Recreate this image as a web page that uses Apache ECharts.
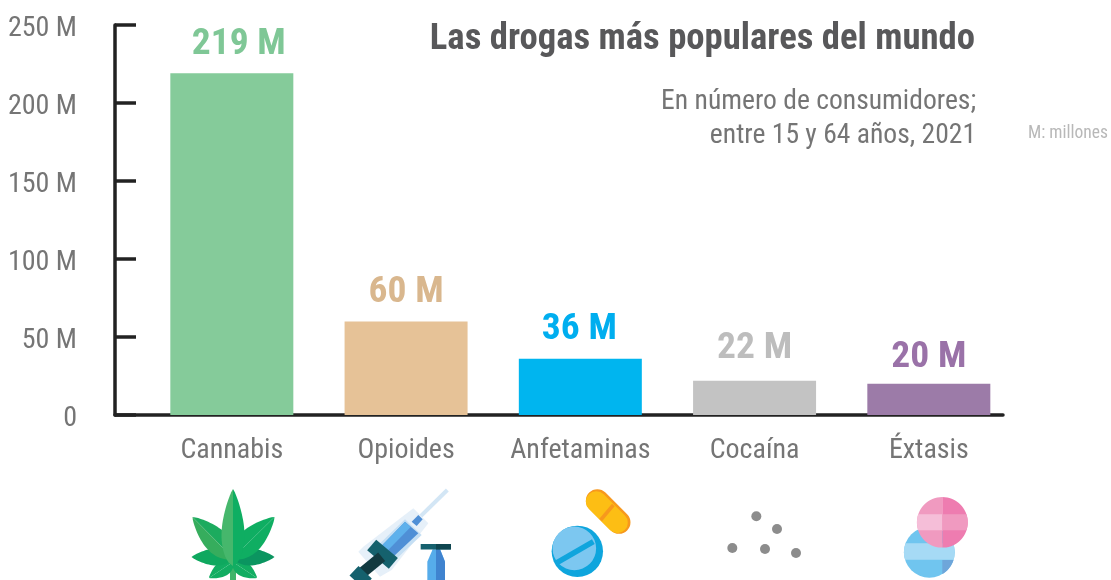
<!DOCTYPE html>
<html><head><meta charset="utf-8">
<style>html,body{margin:0;padding:0;background:#fff}#c{width:1111px;height:580px}</style>
<script src="https://cdn.jsdelivr.net/npm/echarts@6/dist/echarts.min.js"></script>
</head><body><div id="c"></div>
<script>
const categories = ['Cannabis','Opioides','Anfetaminas','Cocaína','Éxtasis'];
const values = [219,60,36,22,20];
const barColors = ['#85cb9a','#e6c297','#00b5ef','#c3c3c3','#9c7ba8'];
const labelColors = ['#7fc796','#d9b78e','#00aeef','#bdbdbd','#9a72a8'];
const font = '"Roboto Condensed","Liberation Sans",sans-serif';

const chart = echarts.init(document.getElementById('c'), null, {renderer:'canvas'});

const G = [];
function poly(points, fill, z){ G.push({type:'polygon', silent:true, z:z||10, shape:{points}, style:{fill}}); }
function line(a,b,stroke,w,cap){ G.push({type:'line', silent:true, z:10, shape:{x1:a[0],y1:a[1],x2:b[0],y2:b[1]}, style:{stroke,lineWidth:w,lineCap:cap||'butt'}}); }
function circ(c,r,fill){ G.push({type:'circle', silent:true, z:10, shape:{cx:c[0],cy:c[1],r}, style:{fill}}); }
function leaf(base,tip,w,cl,cr){
  const dx=tip[0]-base[0], dy=tip[1]-base[1], L=Math.hypot(dx,dy), nx=-dy/L, ny=dx/L;
  const side=s=>{const p=[base.slice()];for(let i=1;i<=24;i++){const t=i/24,h=w*Math.pow(Math.sin(Math.PI*Math.pow(t,0.75)),0.8);
    p.push([base[0]+dx*t+s*nx*h, base[1]+dy*t+s*ny*h]);}return p;};
  poly(side(1),cl); poly(side(-1),cr);
}
function clipCircle(cx,cy,r,x0,x1,y0,y1,fill){
  const L=[],R=[];
  for(let y=Math.max(y0,cy-r);y<=Math.min(y1,cy+r)+0.001;y+=0.5){
    const w=Math.sqrt(Math.max(0,r*r-(y-cy)*(y-cy)));
    const a=Math.max(x0,cx-w), b=Math.min(x1,cx+w);
    if(b>a){L.push([a,y]);R.unshift([b,y]);}
  }
  if(L.length) poly(L.concat(R),fill);
}
const A=(x,y)=>[150+x/3,480+y/3];
const B=(x,y)=>[530+x/3,480+y/3];
const pts=(f,arr)=>arr.map(p=>f(p[0],p[1]));

/* cannabis */
line([233,556],[233,582],'#3fb56a',6);
leaf([233,562],[209,578],7.5,'#12ad62','#12ad62');
leaf([233,562],[257,578],7.5,'#12ad62','#12ad62');
leaf([233,557],[191.5,557],8.5,'#0fa85f','#0fa85f');
leaf([233,557],[274.5,557],8.5,'#0b9560','#0b9560');
leaf([233,558],[192.5,517],12,'#1cab5e','#36ad5d');
leaf([233,558],[274.5,517],12,'#0fae62','#0fae62');
leaf([233,566],[233,489],11.5,'#0fae62','#46b76c');

/* syringe */
line(A(790,130),A(892,30),'#d3e6f5',4);
poly(pts(A,[[625,215],[640,200],[790,85],[835,130],[725,270],[690,290]]),'#e6f0f9');
poly(pts(A,[[685,195],[765,118],[815,165],[730,245]]),'#c5dff4');
poly(pts(A,[[692,200],[765,125],[805,160],[725,235]]),'#4f8fd6');
poly(pts(A,[[692,200],[765,125],[782,141],[708,217]]),'#5eb1ec');
poly(pts(A,[[785,125],[805,105],[818,118],[800,138]]),'#4f8fd6');
line(A(665,195),A(730,250),'#15616d',14);
line(A(695,230),A(632,282),'#123a40',11);
line(A(612,272),A(652,310),'#15616d',13);

/* vial */
poly(pts(A,[[832,245],[848,208],[870,208],[885,245],[885,320],[832,320]]),'#56acea');
poly(pts(A,[[858,208],[870,208],[885,245],[885,320],[858,320]]),'#3f83cf');
G.push({type:'rect',silent:true,z:10,shape:{x:A(812,192)[0],y:A(812,192)[1],width:30,height:5.5},style:{fill:'#16616e'}});
G.push({type:'rect',silent:true,z:10,shape:{x:A(858,192)[0],y:A(812,192)[1],width:15,height:5.5},style:{fill:'#0f4650'}});

/* capsule */
line(B(202,62),B(267,127),'#f7981d',23,'round');
line(B(199,65),B(262,128),'#fdbe14',21,'round');
line(B(250,75),B(212,120),'#f7981d',3.5);

/* tablet */
circ(B(142,214),25.7,'#0ea5dd');
circ(B(133,205),21.8,'#7cc7f0');
line(B(77,250),B(190,185),'#10a5dd',5.5);

/* dots */
[[679,109],[741,147],[607,204],[705,207],[798,219]].forEach(p=>circ(B(p[0],p[1]),5,'#8c8c8c'));

/* ecstasy */
const bc=B(1198,217), bx=B(1237,0)[0], by0=B(0,190)[1], by1=B(0,240)[1];
circ(bc,25.4,'#70c5ef');
clipCircle(bc[0],bc[1],25.4,0,9999,by0,by1,'#a6daf5');
clipCircle(bc[0],bc[1],25.4,bx,9999,by1,9999,'#6ea6da');
const pc=B(1237,127), py0=B(0,103)[1], py1=B(0,152)[1];
clipCircle(pc[0],pc[1],25.4,0,bx,0,9999,'#f09ac0');
clipCircle(pc[0],pc[1],25.4,bx,9999,0,9999,'#ee7cb0');
clipCircle(pc[0],pc[1],25.4,0,bx,py0,py1,'#f5bed8');
clipCircle(pc[0],pc[1],25.4,bx,9999,py0,py1,'#f09ac0');

function txt(x,y,text,size,color,weight,align){
  G.push({type:'text',silent:true,z:20,x,y,style:{text,fill:color,font:(weight||'normal')+' '+size+'px '+font,textAlign:align||'right',textVerticalAlign:'middle'}});
}
txt(975,40,'Las drogas más populares del mundo',36.7,'#58585a','bold');
txt(976,102,'En número de consumidores;',27.6,'#757575');
txt(976,136,'entre 15 y 64 años, 2021',27.6,'#757575');
txt(1108,134,'M: millones',17.5,'#b8b8b8');

chart.setOption({
  animation:false,
  backgroundColor:'#fff',
  grid:[
    {left:115,top:25,width:888,height:390,outerBoundsMode:'none'},
    {left:144.7,top:25,width:871.25,height:390,outerBoundsMode:'none'}
  ],
  xAxis:[
    {gridIndex:0,type:'category',data:categories,axisLine:{lineStyle:{color:'#222',width:3.5}},axisTick:{show:false},axisLabel:{show:false},splitLine:{show:false}},
    {gridIndex:1,type:'category',data:categories,axisLine:{show:false},axisTick:{show:false},
      axisLabel:{color:'#757575',fontFamily:font,fontSize:28,margin:22,interval:0}}
  ],
  yAxis:[
    {gridIndex:0,type:'value',min:0,max:250,interval:50,
      axisLine:{show:true,lineStyle:{color:'#222',width:3.5}},
      axisTick:{show:true,inside:true,length:21,lineStyle:{color:'#222',width:3.5}},
      splitLine:{show:false},
      axisLabel:{color:'#757575',fontFamily:font,fontSize:28,margin:38,verticalAlign:'top',padding:[-10,0,0,0],
        formatter:v=>v===0?'0':v+' M'}},
    {gridIndex:1,type:'value',min:0,max:250,interval:50,show:false}
  ],
  series:[{
    type:'bar',xAxisIndex:1,yAxisIndex:1,barWidth:123,z:1,
    data:values.map((v,i)=>({value:v,itemStyle:{color:barColors[i]},
      label:{color:labelColors[i],offset:[i===0?7:i===2?-1:0, i===4?5:i===3?-1:2]}})),
    label:{show:true,position:'top',distance:12,fontFamily:font,fontWeight:'bold',fontSize:37.5,formatter:p=>p.value+' M'}
  }],
  graphic:G
});
</script></body></html>
